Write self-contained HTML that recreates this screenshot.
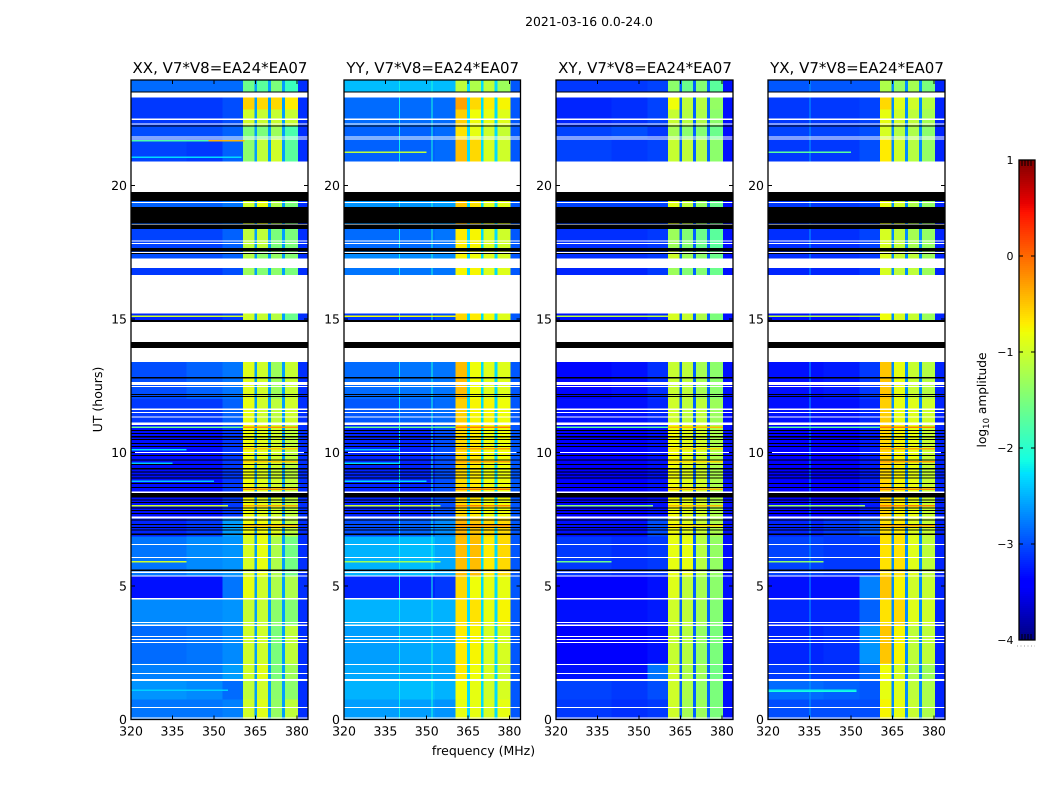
<!DOCTYPE html>
<html lang="en">
<head>
<meta charset="utf-8">
<title>2021-03-16 0.0-24.0</title>
<style>
html,body{margin:0;padding:0;background:#fff;width:1050px;height:800px;overflow:hidden}
svg{display:block;font-family:"DejaVu Sans","Liberation Sans",sans-serif;fill:#000}
</style>
</head>
<body>
<svg id="figure" xmlns="http://www.w3.org/2000/svg" width="1050" height="800" viewBox="0 0 1050 800" shape-rendering="crispEdges">
<rect x="0" y="0" width="1050" height="800" fill="#fff"/>
<text x="589" y="26" text-anchor="middle" font-size="12.4" text-rendering="geometricPrecision">2021-03-16 0.0-24.0</text>
<text x="483.5" y="755" text-anchor="middle" font-size="12.5" text-rendering="geometricPrecision">frequency (MHz)</text>
<text x="0" y="0" transform="translate(102 399.5) rotate(-90)" text-anchor="middle" font-size="12.5" text-rendering="geometricPrecision">UT (hours)</text>
<text x="0" y="0" transform="translate(986 400) rotate(-90)" text-anchor="middle" font-size="12.2" text-rendering="geometricPrecision">log<tspan font-size="8.5" dy="3">10</tspan><tspan dy="-3"> amplitude</tspan></text>
<g id="panels"></g>
<g id="colorbar"></g>
</svg>
<script>
// ---- chart data (log10 amplitude) ----
const panelTitles = ["XX, V7*V8=EA24*EA07", "YY, V7*V8=EA24*EA07", "XY, V7*V8=EA24*EA07", "YX, V7*V8=EA24*EA07"];
const xTickLabels = [320, 335, 350, 365, 380];
const yTickLabels = [0, 5, 10, 15, 20];
const colorbarTicks = [1, 0, -1, -2, -3, -4];
const colorbarMinorTicks = [1022, 1025, 1028, 1031];
const freqEdges = [320, 340, 353, 360.5, 364.6, 365.6, 369.6, 370.6, 374.6, 375.6, 380.4, 384];
const rowEdges = [0, 0.75, 1.45, 2.1, 3.5, 4.5, 5.4, 6.85, 7.6, 11.05, 12, 13.4, 15.21, 16.91, 17.52, 18.37, 19.76, 21.72, 22.25, 22.85, 23.29, 23.95];
// each row: low, mid, near-band background, then the four bright sub-bands
const valuesXX = [
[-2.8,-2.8,-2.75,-1.0,-0.9,-1.35,-1.1],[-2.65,-2.7,-2.85,-1.1,-1.0,-1.4,-1.4],[-2.75,-2.75,-2.6,-1.0,-0.9,-1.5,-1.3],
[-2.85,-2.8,-2.7,-1.0,-1.0,-1.5,-1.1],[-2.7,-2.7,-2.65,-1.05,-1.05,-1.4,-1.45],[-3.3,-3.3,-2.8,-0.85,-1.0,-1.2,-1.2],
[-2.8,-2.7,-2.65,-0.95,-0.85,-1.2,-1.55],[-3.2,-3.1,-2.6,-0.8,-0.8,-0.9,-1.1],[-3.3,-3.3,-3.1,-0.8,-0.9,-1.0,-1.1],
[-3.1,-3.1,-2.9,-0.85,-1.0,-1.1,-1.0],[-3.0,-2.9,-2.8,-0.9,-1.0,-1.3,-1.05],[-3.2,-3.2,-3.1,-1.0,-1.05,-1.15,-1.6],
[-3.1,-3.1,-3.0,-1.3,-1.45,-1.4,-1.5],[-3.0,-3.0,-2.9,-1.15,-1.4,-1.35,-1.45],[-3.05,-3.05,-2.9,-1.1,-1.1,-1.5,-1.5],
[-2.9,-2.9,-2.8,-1.0,-0.85,-1.2,-1.5],[-3.05,-3.1,-2.9,-1.4,-1.1,-1.0,-1.7],[-3.0,-3.0,-2.9,-1.5,-1.5,-1.3,-1.8],
[-3.1,-3.1,-3.0,-1.0,-1.05,-1.05,-1.05],[-3.1,-3.1,-3.0,-0.55,-0.6,-0.6,-0.7],[-2.85,-2.85,-2.85,-1.6,-1.7,-1.5,-1.9]];
const valuesYY = [
[-2.6,-2.6,-2.65,-0.85,-0.85,-0.95,-0.85],[-2.5,-2.45,-2.5,-0.8,-0.85,-1.0,-0.95],[-2.55,-2.55,-2.55,-0.7,-0.8,-0.95,-1.0],
[-2.6,-2.55,-2.55,-0.7,-0.75,-0.95,-0.95],[-2.5,-2.5,-2.5,-0.65,-0.65,-0.85,-0.75],[-3.2,-3.2,-3.1,-0.6,-0.8,-0.85,-0.85],
[-2.5,-2.45,-2.55,-0.45,-0.45,-0.7,-0.6],[-3.0,-2.9,-2.7,-0.4,-0.5,-0.6,-0.6],[-3.2,-3.2,-3.0,-0.6,-0.7,-0.8,-0.8],
[-2.95,-2.9,-2.85,-0.55,-0.75,-0.75,-0.8],[-2.85,-2.8,-2.8,-0.45,-0.8,-0.9,-0.9],[-3.1,-3.1,-3.0,-0.6,-0.7,-0.8,-0.9],
[-2.8,-2.8,-2.8,-0.75,-0.75,-0.9,-0.9],[-2.7,-2.7,-2.7,-0.75,-0.8,-0.9,-0.95],[-2.85,-2.85,-2.8,-0.7,-0.75,-0.95,-1.0],
[-2.65,-2.65,-2.6,-0.5,-0.65,-0.9,-0.9],[-2.9,-2.9,-2.85,-0.45,-0.6,-0.95,-1.0],[-2.9,-2.9,-2.85,-0.65,-0.85,-1.0,-1.05],
[-2.85,-2.85,-2.85,-0.55,-0.8,-0.85,-0.9],[-2.85,-2.85,-2.85,-0.3,-0.6,-0.7,-0.75],[-2.45,-2.45,-2.45,-1.1,-1.2,-1.1,-1.3]];
const valuesXY = [
[-3.1,-3.15,-3.1,-1.0,-1.25,-1.3,-1.5],[-3.05,-3.1,-3.0,-1.0,-1.2,-1.35,-1.5],[-3.3,-3.3,-2.8,-1.0,-1.2,-1.3,-1.55],
[-3.4,-3.4,-3.3,-1.05,-1.15,-1.35,-1.5],[-3.3,-3.3,-3.25,-1.0,-1.1,-1.25,-1.45],[-3.4,-3.4,-3.3,-0.9,-1.1,-1.25,-1.4],
[-3.1,-3.15,-3.1,-0.85,-0.85,-1.15,-1.35],[-3.3,-3.3,-3.0,-0.8,-0.9,-1.05,-1.2],[-3.4,-3.4,-3.3,-0.8,-0.9,-1.0,-1.2],
[-3.3,-3.3,-3.2,-1.0,-1.1,-1.1,-1.3],[-3.35,-3.3,-3.15,-1.05,-1.1,-1.25,-1.4],[-3.3,-3.3,-3.2,-0.95,-1.05,-1.2,-1.5],
[-3.2,-3.2,-3.1,-1.3,-1.45,-1.45,-1.6],[-3.15,-3.15,-3.1,-1.0,-1.3,-1.4,-1.6],[-3.15,-3.15,-3.1,-1.3,-1.45,-1.6,-1.7],
[-3.05,-3.05,-3.05,-0.9,-1.1,-1.35,-1.6],[-3.05,-3.1,-3.05,-1.05,-1.1,-1.2,-1.4],[-3.05,-3.0,-3.1,-1.25,-1.4,-1.45,-1.6],
[-3.2,-3.15,-3.05,-1.05,-1.15,-1.2,-1.4],[-3.2,-3.15,-3.05,-0.8,-1.1,-1.15,-1.35],[-3.1,-3.1,-3.05,-1.4,-1.6,-1.45,-1.7]];
const valuesYX = [
[-3.0,-3.0,-3.0,-0.75,-0.85,-1.05,-1.2],[-2.85,-2.9,-2.95,-0.85,-0.9,-1.1,-1.2],[-3.1,-3.1,-2.85,-0.8,-0.95,-1.2,-1.3],
[-3.2,-3.15,-2.65,-0.5,-0.75,-1.1,-1.1],[-3.2,-3.2,-2.9,-0.65,-0.6,-0.9,-1.0],[-3.3,-3.3,-2.75,-0.5,-0.75,-1.0,-1.05],
[-3.05,-3.1,-3.1,-0.65,-0.65,-0.9,-1.1],[-3.2,-3.1,-2.95,-0.65,-0.7,-0.9,-1.05],[-3.4,-3.4,-3.25,-0.6,-0.75,-0.85,-1.05],
[-3.3,-3.3,-3.2,-0.55,-0.85,-0.9,-1.0],[-3.3,-3.25,-3.1,-0.5,-0.85,-1.05,-1.15],[-3.3,-3.3,-3.2,-0.8,-0.95,-1.05,-1.3],
[-3.2,-3.2,-3.1,-0.95,-1.1,-1.1,-1.3],[-3.15,-3.15,-3.1,-0.9,-1.05,-1.1,-1.3],[-3.15,-3.15,-3.05,-0.95,-1.1,-1.25,-1.35],
[-3.1,-3.1,-3.05,-0.85,-1.0,-1.2,-1.35],[-3.1,-3.1,-3.0,-0.7,-1.0,-1.15,-1.35],[-3.05,-3.05,-3.0,-0.95,-1.15,-1.2,-1.4],
[-3.1,-3.1,-3.05,-0.85,-1.0,-1.1,-1.25],[-3.1,-3.1,-3.05,-0.6,-0.9,-1.0,-1.15],[-2.95,-2.95,-2.95,-1.2,-1.35,-1.25,-1.5]];
const notchLevels = [-2.6, -2.3, -2.9, -2.7];
const rightEdgeLevels = [-3.15, -2.95, -3.3, -3.2];
// narrow interference features: panel, hour, start MHz, end MHz, level
const rfiRows = [
[0,21.68,320,348,-1.8],[0,21.68,348,361,-0.4],[0,21.05,320,360,-2.3],
[0,15.1,320,360.5,-1.0],[1,15.1,320,360.5,-0.8],[2,15.1,320,360.5,-1.1],[3,15.1,320,360.5,-1.1],
[0,10.95,320,360.5,-1.6],[1,10.95,320,360.5,-1.6],[2,10.95,320,360.5,-1.7],[3,10.95,320,360.5,-1.7],
[0,10.95,360.5,380.4,-0.2],[1,10.95,360.5,380.4,-0.1],[2,10.95,360.5,380.4,-0.4],[3,10.95,360.5,380.4,-0.1],
[0,8.0,320,355,-1.0],[1,8.0,320,355,-1.0],[2,8.0,320,355,-1.4],[3,8.0,320,355,-1.3],
[0,8.0,360.5,380.4,-0.3],[1,8.0,360.5,380.4,-0.1],[2,8.0,360.5,380.4,-0.4],[3,8.0,360.5,380.4,-0.1],
[0,8.62,360.5,380.4,-0.2],[1,8.62,360.5,380.4,-0.1],[2,8.62,360.5,380.4,-0.4],[3,8.62,360.5,380.4,-0.2],
[0,9.65,360.5,380.4,-0.5],[1,9.65,360.5,380.4,-0.3],[2,9.65,360.5,380.4,-0.6],[3,9.65,360.5,380.4,-0.3],
[0,10.14,360.5,380.4,-0.5],[1,10.14,360.5,380.4,-0.3],[2,10.14,360.5,380.4,-0.6],[3,10.14,360.5,380.4,-0.3],
[0,7.25,360.5,380.4,-0.4],[1,7.25,360.5,380.4,-0.2],[2,7.25,360.5,380.4,-0.6],[3,7.25,360.5,380.4,-0.3],
[0,10.1,320,340,-2.3],[1,10.1,320,340,-2.4],[0,9.6,320,335,-2.4],[1,9.6,320,340,-2.3],[0,8.92,320,350,-2.4],[1,8.92,320,350,-2.3],
[0,5.9,320,340,-1.0],[1,5.9,320,355,-1.3],[2,5.9,320,340,-1.6],[3,5.9,320,340,-1.4],
[1,21.25,320,350,-1.1],[3,21.25,320,350,-1.7],
[0,1.1,320,355,-2.35],[3,1.05,320,352,-2.1],[3,1.1,320,352,-2.2]];
// thin vertical interference: panel, MHz, level
const rfiColumns = [[1,339.9,-2.2],[1,351.8,-2.1],[3,335,-2.6]];
// flagged (white) and missing (black) time ranges in hours
const flaggedWhite = [
[23.29,23.49],[22.45,22.51],[22.28,22.32],[21.80,21.84],[21.72,21.76],[19.76,20.89],[19.34,19.38],[18.53,18.56],
[17.90,17.94],[17.81,17.85],[17.47,17.51],[16.91,17.26],[15.21,16.65],[14.14,14.89],[13.39,13.92],[12.52,12.64],
[12.45,12.49],[11.60,11.65],[11.48,11.52],[11.31,11.35],[11.03,11.12],[9.98,10.02],[8.49,8.53],[7.52,7.60],
[6.54,6.57],[6.05,6.09],[5.48,5.54],[5.35,5.39],[4.49,4.55],[3.61,3.65],[3.51,3.55],[3.09,3.13],[2.98,3.01],
[2.87,2.90],[2.04,2.08],[1.70,1.74],[1.44,1.52],[0.43,0.47],[0.04,0.07]];
const missingBlack = [
[23.49,23.51],[22.21,22.25],[19.41,19.76],[18.57,19.20],[18.37,18.53],[17.52,17.66],[17.43,17.47],[14.89,14.96],
[13.92,14.14],[12.78,12.82],[12.15,12.19],[12.08,12.11],[10.80,10.84],[10.69,10.73],[10.57,10.61],[10.47,10.51],
[10.32,10.36],[10.22,10.25],[9.86,9.90],[9.70,9.74],[9.53,9.56],[9.36,9.42],[9.25,9.29],[9.14,9.18],[9.03,9.06],
[8.82,8.86],[8.67,8.71],[8.31,8.48],[8.20,8.24],[8.10,8.14],[7.90,7.94],[7.80,7.84],[7.70,7.73],[7.45,7.49],
[7.28,7.32],[7.17,7.21],[7.07,7.11],[6.91,6.97],[5.57,5.61]];
const panelValues = [valuesXX, valuesYY, valuesXY, valuesYX];
// ---- layout ----
const panelLeft = [131, 344, 556, 768];
const panelRight = [308, 520.5, 733, 945];
const axTop = 80, axBottom = 719.5, fMin = 320, fMax = 384, tMin = 0, tMax = 23.95;
const cbLeft = 1019, cbRight = 1035, cbTop = 160, cbBottom = 640, vMin = -4, vMax = 1;
const NS = "http://www.w3.org/2000/svg";
function make(tag, attrs, parent){
  const el = document.createElementNS(NS, tag);
  for (const k in attrs) el.setAttribute(k, attrs[k]);
  parent.appendChild(el);
  return el;
}
function jet(v){
  const t = Math.max(0, Math.min(1, (v - vMin) / (vMax - vMin)));
  const clip = x => Math.max(0, Math.min(1, x));
  const r = t < 0.89 ? clip((t - 0.35) / 0.31) : 1 - (t - 0.89) / 0.11 * 0.5;
  const g = t < 0.5 ? clip((t - 0.125) / 0.25) : clip((0.91 - t) / 0.27);
  const b = t < 0.35 ? clip(0.5 + t / 0.11 * 0.5) : clip((0.65 - t) / 0.31);
  return "rgb(" + Math.round(r * 255) + "," + Math.round(g * 255) + "," + Math.round(b * 255) + ")";
}
function xScale(p, f){ return panelLeft[p] + (f - fMin) / (fMax - fMin) * (panelRight[p] - panelLeft[p]); }
function yScale(t){ return axBottom - (t - tMin) / (tMax - tMin) * (axBottom - axTop); }
function cbScale(v){ return cbBottom - (v - vMin) / (vMax - vMin) * (cbBottom - cbTop); }
function cellValue(p, r, c){
  const row = panelValues[p][r];
  const map = [row[0], row[1], row[2], row[3], notchLevels[p], row[4], notchLevels[p], row[5], notchLevels[p], row[6], rightEdgeLevels[p]];
  return map[c];
}
const panelsG = document.getElementById("panels");
panelTitles.forEach(function(title, p){
  const g = make("g", {}, panelsG);
  
  
  const L = panelLeft[p], R = panelRight[p];
  for (let r = 0; r < rowEdges.length - 1; r++) {
    for (let c = 0; c < freqEdges.length - 1; c++) {
      const x0 = xScale(p, freqEdges[c]), x1 = xScale(p, freqEdges[c + 1]);
      const y0 = yScale(rowEdges[r + 1]), y1 = yScale(rowEdges[r]);
      const cell = make("rect", {x: x0, y: y0, width: x1 - x0, height: y1 - y0, fill: jet(cellValue(p, r, c))}, g);
      
      
    }
  }
  rfiColumns.filter(d => d[0] === p).forEach(function(d){
    const col = make("rect", {x: xScale(p, d[1]), y: axTop, width: 1, height: axBottom - axTop, fill: jet(d[2])}, g);
    
    
  });
  rfiRows.filter(d => d[0] === p).forEach(function(d){
    const x0 = xScale(p, d[2]), x1 = xScale(p, d[3]);
    const line = make("rect", {x: x0, y: yScale(d[1]) - 0.75, width: x1 - x0, height: 1.5, fill: jet(d[4])}, g);
    
    
  });
  flaggedWhite.forEach(function(d){
    const y0 = yScale(d[1]);
    const gap = make("rect", {x: L, y: y0, width: R - L, height: Math.max(1, yScale(d[0]) - y0), fill: "#fff"}, g);
    
    
  });
  missingBlack.forEach(function(d){
    const y0 = yScale(d[1]);
    const gap = make("rect", {x: L, y: y0, width: R - L, height: Math.max(1, yScale(d[0]) - y0), fill: "#000"}, g);
    
    
  });
  const frame = make("rect", {x: L, y: axTop, width: R - L, height: axBottom - axTop, fill: "none", stroke: "#000", "stroke-width": 1.3, "shape-rendering": "auto"}, g);
  
  
  const titleEl = make("text", {x: (L + R) / 2 + 0.5, y: 73, "text-anchor": "middle", "font-size": 15, "text-rendering": "geometricPrecision"}, g);
  titleEl.textContent = title;
  
  
  xTickLabels.forEach(function(f){
    const x = xScale(p, f);
    make("path", {d: "M" + x + " " + axBottom + "v-4M" + x + " " + axTop + "v4", stroke: "#000", "stroke-width": 1, fill: "none"}, g);
    const lab = make("text", {x: x, y: 735.5, "text-anchor": "middle", "font-size": 12.5, "text-rendering": "geometricPrecision"}, g);
    lab.textContent = f;
    
    
  });
  yTickLabels.forEach(function(t){
    const y = yScale(t);
    make("path", {d: "M" + L + " " + y + "h4M" + R + " " + y + "h-4", stroke: "#000", "stroke-width": 1, fill: "none"}, g);
    const lab = make("text", {x: L - 4, y: y + 4.5, "text-anchor": "end", "font-size": 12.5, "text-rendering": "geometricPrecision"}, g);
    lab.textContent = t;
    
    
  });
});
// colorbar
const cbG = document.getElementById("colorbar");
for (let y = cbTop; y < cbBottom; y += 2) {
  const v = vMax - (y + 1 - cbTop) / (cbBottom - cbTop) * (vMax - vMin);
  const strip = make("rect", {x: cbLeft, y: y, width: cbRight - cbLeft, height: 2, fill: jet(v)}, cbG);
  
  
}
colorbarMinorTicks.forEach(function(x){
  const tk = make("path", {d: "M" + x + " " + cbTop + "v6M" + x + " " + cbBottom + "v-6", stroke: "#000", "stroke-width": 1, fill: "none"}, cbG);
  
  
});
const cbFrame = make("rect", {x: cbLeft, y: cbTop, width: cbRight - cbLeft, height: cbBottom - cbTop, fill: "none", stroke: "#000", "stroke-width": 1.3, "shape-rendering": "auto"}, cbG);


colorbarTicks.forEach(function(v){
  const y = cbScale(v);
  make("path", {d: "M" + cbLeft + " " + y + "h4M" + cbRight + " " + y + "h-4", stroke: "#000", "stroke-width": 1, fill: "none"}, cbG);
  const lab = make("text", {x: 1013.5, y: y + 4, "text-anchor": "end", "font-size": 11, "text-rendering": "geometricPrecision"}, cbG);
  lab.textContent = String(v).replace("-", "\u2212");
  
  
});
const cbDots = make("line", {x1: 1017, y1: 646, x2: 1035, y2: 646, stroke: "#999", "stroke-width": 1, "stroke-dasharray": "1 2.5"}, cbG);


</script>
</body>
</html>
